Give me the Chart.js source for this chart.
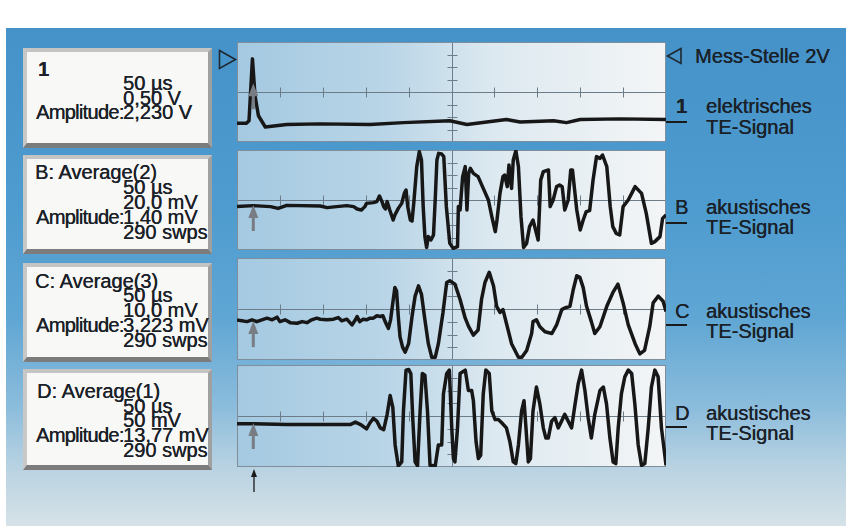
<!DOCTYPE html>
<html>
<head>
<meta charset="utf-8">
<script src="https://cdn.jsdelivr.net/npm/chart.js@4.4.1/dist/chart.umd.min.js"></script>
<style>
body { margin: 0; width: 846px; height: 526px; background: #fff; overflow: hidden; position: relative;
  font-family: "Liberation Sans", Arial, sans-serif; color: #1a2128; }
#bg { position: absolute; left: 6px; top: 28px; width: 840px; height: 498px;
  background: linear-gradient(180deg, #4592c8 0%, #4d9bcf 35%, #5fa6d4 58%, #8bbcdc 76%, #b8d2e2 88%, #d6e2e8 100%); }
.box { position: absolute; left: 23px; width: 189px; box-sizing: border-box; background: #f8f8f7;
  border-top: 4px solid #c4c4c4; border-left: 4px solid #c8c8c8; border-right: 4px solid #a0a0a0; border-bottom: 5px solid #7c7c7c; }
.t { position: absolute; font-size: 20px; line-height: 20px; white-space: nowrap; text-shadow: 0.35px 0 0 #1a2128; }
.b { font-weight: bold; }
.amp { letter-spacing: -0.7px; }
canvas { position: absolute; left: 237px; }
svg { position: absolute; left: 0; top: 0; }
</style>
</head>
<body>
<div id="bg"></div>

<div class="box" style="top:48px;height:100px"></div>
<div class="box" style="top:155px;height:99px"></div>
<div class="box" style="top:263px;height:99px"></div>
<div class="box" style="top:369px;height:101px"></div>

<div class="t b" style="left:38px;top:59px">1</div>
<div class="t" style="left:123px;top:73px">50 µs</div>
<div class="t" style="left:123px;top:88px">0,50 V</div>
<div class="t amp" style="left:36px;top:102px">Amplitude:</div>
<div class="t" style="left:123px;top:102px">2,230 V</div>

<div class="t" style="left:35px;top:162px">B: Average(2)</div>
<div class="t" style="left:123px;top:177px">50 µs</div>
<div class="t" style="left:123px;top:192px">20,0 mV</div>
<div class="t amp" style="left:36px;top:207px">Amplitude:</div>
<div class="t" style="left:123px;top:207px">1,40 mV</div>
<div class="t" style="left:123px;top:222px">290 swps</div>

<div class="t" style="left:35px;top:271px">C: Average(3)</div>
<div class="t" style="left:123px;top:285px">50 µs</div>
<div class="t" style="left:123px;top:300px">10,0 mV</div>
<div class="t amp" style="left:36px;top:315px">Amplitude:</div>
<div class="t" style="left:123px;top:315px">3,223 mV</div>
<div class="t" style="left:123px;top:330px">290 swps</div>

<div class="t" style="left:37px;top:381px">D: Average(1)</div>
<div class="t" style="left:123px;top:396px">50 µs</div>
<div class="t" style="left:123px;top:410px">50 mV</div>
<div class="t amp" style="left:36px;top:425px">Amplitude:</div>
<div class="t" style="left:123px;top:425px">13,77 mV</div>
<div class="t" style="left:123px;top:440px">290 swps</div>

<canvas id="scope1" width="429" height="100" style="top:42px"></canvas>
<canvas id="scopeB" width="429" height="100" style="top:150px"></canvas>
<canvas id="scopeC" width="429" height="102" style="top:258px"></canvas>
<canvas id="scopeD" width="429" height="102" style="top:365px"></canvas>

<div class="t" style="left:695px;top:46px">Mess-Stelle 2V</div>
<div class="t b" style="left:676px;top:96px">1</div>
<div class="t" style="left:706px;top:96px">elektrisches</div>
<div class="t" style="left:706px;top:117px">TE-Signal</div>
<div class="t" style="left:675px;top:197px">B</div>
<div class="t" style="left:706px;top:197px">akustisches</div>
<div class="t" style="left:706px;top:217px">TE-Signal</div>
<div class="t" style="left:675px;top:301px">C</div>
<div class="t" style="left:706px;top:301px">akustisches</div>
<div class="t" style="left:706px;top:321px">TE-Signal</div>
<div class="t" style="left:675px;top:403px">D</div>
<div class="t" style="left:706px;top:403px">akustisches</div>
<div class="t" style="left:706px;top:423px">TE-Signal</div>

<svg width="846" height="526">
  <g fill="none" stroke="#1f2830" stroke-width="1.6">
    <path d="M219.5 50.5 L235.5 59.5 L219.5 68.5 Z"/>
    <path d="M681 48.5 L667.5 56 L681 63.5 Z"/>
  </g>
  <g stroke="#1a1a1a" stroke-width="2">
    <line x1="666" y1="122" x2="687" y2="122"/>
    <line x1="666" y1="223" x2="687" y2="223"/>
    <line x1="666" y1="325" x2="687" y2="325"/>
    <line x1="666" y1="427" x2="687" y2="427"/>
  </g>
  <line x1="254" y1="474" x2="254" y2="492" stroke="#1a1a1a" stroke-width="1.3"/>
  <path d="M254 469 L251 477 L257 477 Z" fill="#1a1a1a"/>
</svg>

<script>
// time axis: 50 µs/div, 10 div; amplitude in divisions (8 div)
const xTicks = [50, 100, 150, 200, 300, 350, 400, 450]
const yTicks = [-3, -2, -1, 1, 2, 3]
const triggerUs = 19

// 1: elektrisches TE-Signal
const time1 = [0, 11, 14, 18, 21, 25, 33, 58, 97, 155,
  194, 248, 268, 291, 314, 330, 369, 384, 400, 446,
  500]
const volt1 = [-2.5, -2.5, -2.3, 2.65, -0.3, -1.9, -2.8, -2.6, -2.55, -2.6,
  -2.45, -2.3, -2.6, -2.4, -2.2, -2.4, -2.3, -2.45, -2.2, -2.15,
  -2.2]

// B: akustisches TE-Signal
const timeB = [0, 19, 39, 48, 58, 97, 105, 116, 128, 136,
  140, 145, 149, 151, 159, 163, 166, 169, 171, 173,
  175, 178, 182, 184, 188, 192, 195, 197, 199, 202,
  204, 206, 209.5, 212.5, 215, 217, 219, 221, 223, 226,
  229, 231, 233, 235, 238.5, 241, 244, 248, 252, 257,
  258, 260, 263, 266, 268, 270, 272, 275.5, 281, 287,
  293, 297, 301, 303, 306.5, 310, 312, 315, 317, 320,
  322, 325, 328, 331, 334, 337.5, 341, 345, 348, 351,
  354, 357, 363, 365, 368.5, 372.5, 376, 379, 382, 386,
  389, 391, 396, 400, 403.5, 407, 411, 415, 419, 423,
  426, 431, 435, 438, 442, 446, 450, 456, 460, 464,
  471.5, 477, 483, 487, 493, 496, 500]
const voltB = [-0.53, -0.45, -0.53, -0.67, -0.43, -0.48, -0.61, -0.53, -0.45, -0.53,
  -0.72, -0.8, -0.53, -0.27, -0.21, -0.13, 0.32, -0.13, -0.53, -0.72,
  -0.13, -0.8, -1.6, -1.2, -0.67, -0.27, 0.53, 0.8, -0.53, -1.6,
  -1.68, -0.27, 2.67, 3.87, 3.2, -0.53, -2.93, -3.79, -2.93, -3.2,
  -2.8, 0, 3.2, 3.73, 3.68, 3.47, -0.53, -3.47, -3.87, -3.73,
  -0.53, -0.8, 1.87, 2.67, -0.8, 2.13, 2.53, 2.13, 1.87, 0.93,
  0, -1.33, -2.53, -1.6, 0.53, 1.87, 2, 1.07, 2.8, 0.93,
  3.2, 3.95, 2.67, -1.33, -3.79, -3.47, -2.13, -1.6, -2.4, -3.2,
  1.6, 2.27, 2.4, -0.53, 0, 1.07, 1.2, 1.07, -0.8, 0,
  2.4, 2.4, -0.8, -2.4, -1.6, -0.93, -0.85, 1.6, 3.47, 3.33,
  3.6, 2.67, -0.53, -2.13, -2.67, -2.8, -0.53, 0, 0.53, 1.07,
  0.53, -1.07, -3.47, -3.33, -2.93, -1.47, -1.2]

// C: akustisches TE-Signal
const timeC = [0, 4, 11.6, 17.5, 23, 29, 35, 41, 46.6, 50,
  56, 62, 70, 76, 81.5, 87, 93, 97, 105, 112.5,
  118, 122, 128, 134, 138, 140, 143, 147, 151, 155,
  159, 163, 167, 170, 172.7, 176.5, 179, 181.6, 184, 186,
  188, 190, 193, 196, 200, 204, 207.6, 211.5, 215, 219,
  223, 227, 231, 234.7, 240, 244.4, 248, 254, 260, 266,
  270, 275.5, 281, 285, 289, 294, 299, 302.6, 306.5, 310,
  314, 320, 328, 332, 337.6, 343.4, 345, 349, 353, 359,
  367, 372.5, 378.5, 382, 388, 392, 396, 399.6, 403.5, 407.4,
  413, 417, 423, 431, 438, 444, 450, 456, 464, 469.5,
  475, 481, 485, 491, 496.6, 500]
const voltC = [-0.85, -0.91, -0.99, -0.85, -0.99, -0.85, -0.72, -0.85, -0.64, -0.99,
  -0.85, -1.07, -1.12, -0.99, -1.07, -0.85, -0.72, -0.8, -0.85, -0.8,
  -0.67, -0.93, -0.8, -1.25, -0.85, -0.59, -0.99, -0.8, -0.85, -0.72,
  -0.72, -0.53, -0.59, -0.53, -0.99, -1.52, -0.85, 0.48, 1.68, 1.41,
  -0.59, -2.19, -2.99, -3.39, -2.72, -0.59, 1.01, 1.81, 1.15, -0.85,
  -2.72, -3.79, -3.79, -2.72, -0.32, 2.08, 2.21, 1.95, 0.75, -0.72,
  -1.39, -2.05, -1.65, 0.75, 2.08, 2.88, 1.81, 0.21, -0.27, -0.05,
  -1.12, -2.72, -3.79, -3.79, -3.25, -1.92, -0.99, -0.85, -1.39, -1.79,
  -1.92, -1.25, -0.05, 0.08, 0.21, 1.55, 2.61, 2.48, 1.68, 0.21,
  -0.99, -1.92, -1.39, 0.21, 1.28, 1.95, 0.48, -1.25, -2.72, -3.52,
  -3.25, -1.39, 0.48, 1.01, 0.61, -0.19]

// D: akustisches TE-Signal
const timeD = [0, 19, 58, 97, 132, 138, 144, 151, 155, 159,
  163, 167, 171, 175, 178.5, 181.6, 184.3, 188, 192, 194,
  197, 200, 202.6, 205, 207.6, 210.4, 213.4, 216, 219, 222,
  225, 231, 234.7, 238.6, 240.6, 244.4, 247.5, 250.3, 252.2, 254,
  257, 260, 266, 269.7, 273.5, 275.5, 278.6, 281.3, 284, 287,
  290, 294, 297, 300.7, 304.6, 308.5, 314, 318, 322, 325,
  328, 331.7, 334.5, 336.8, 339.5, 342, 345, 349, 353, 357,
  360, 362.8, 366.7, 370.5, 374.4, 378.3, 382, 386, 390, 394,
  397.7, 401.6, 405.5, 409.3, 413, 417, 423, 427, 430.7, 434.6,
  438.4, 441.5, 444.3, 448, 452, 456, 460, 463.7, 467.6, 471.5,
  475.3, 479.3, 483, 487, 490.8, 494.7, 498.6, 500]
const voltD = [-0.61, -0.61, -0.67, -0.67, -0.67, -0.48, -0.67, -1.01, -0.53, -0.19,
  -0.4, -0.93, -1.07, 0.13, 1.6, 0.67, -2.27, -3.92, -3.6, 0.4,
  3.6, 3.65, 3.33, -0.4, -3.6, -3.92, 0.4, 3.33, 3.2, 0.4,
  -3.87, -3.92, -2.27, -2.27, 1.73, 3.33, 3.6, -0.93, -3.33, -3.6,
  -0.93, 3.33, 3.6, 2, 2, 1.2, -2, -3.33, -3.07, 1.73,
  3.6, 3.33, 0.4, -0.27, -0.27, -0.53, -0.93, -2, -3.6, -3.73,
  -2.27, 0.4, 1.2, -0.93, -3.6, -3.33, 0.4, 2.27, 0.93, -0.93,
  -1.73, -1.73, -0.4, -0.13, -0.93, -0.4, 0.13, -0.4, -0.93, 0.93,
  2.53, 3.6, 2, -0.13, -1.73, 0.13, 2, 2.27, 0.93, -1.73,
  -3.6, -3.73, -0.93, 1.73, 3.07, 3.6, 3.33, 0.93, -2.27, -3.87,
  -3.73, -0.93, 2.27, 3.6, 3.07, -0.93, -3.07, -3.87]

const scopeGrid = {
    id: 'scopeGrid',
    beforeDatasetsDraw(chart) {
        const { ctx, chartArea: a, scales: { x, y } } = chart
        ctx.save()
        const g = ctx.createLinearGradient(a.left, 0, a.right, 0)
        g.addColorStop(0, '#a4c9e1')
        g.addColorStop(0.35, '#b9d5e7')
        g.addColorStop(0.6, '#dde9f0')
        g.addColorStop(1, '#f3f5f6')
        ctx.fillStyle = g
        ctx.fillRect(a.left, a.top, a.right - a.left, a.bottom - a.top)
        const cx = Math.round(x.getPixelForValue(250)) + 0.5
        const cy = Math.round(y.getPixelForValue(0)) + 0.5
        ctx.strokeStyle = '#6c7c89'
        ctx.lineWidth = 1
        ctx.beginPath()
        ctx.moveTo(a.left, cy); ctx.lineTo(a.right, cy)
        ctx.moveTo(cx, a.top); ctx.lineTo(cx, a.bottom)
        for (const t of xTicks) {
            const px = Math.round(x.getPixelForValue(t)) + 0.5
            ctx.moveTo(px, cy - 5); ctx.lineTo(px, cy + 5)
        }
        for (const v of yTicks) {
            const py = Math.round(y.getPixelForValue(v)) + 0.5
            ctx.moveTo(cx - 5, py); ctx.lineTo(cx + 5, py)
        }
        ctx.stroke()
        ctx.strokeStyle = '#7e8e9a'
        ctx.strokeRect(a.left + 0.5, a.top + 0.5, a.right - a.left - 1, a.bottom - a.top - 1)
        ctx.restore()
    },
    afterDatasetsDraw(chart, args, opts) {
        const { ctx, scales: { x, y } } = chart
        const px = x.getPixelForValue(triggerUs)
        const tip = y.getPixelForValue(opts.tip)
        ctx.save()
        ctx.fillStyle = '#787d83'
        ctx.beginPath()
        ctx.moveTo(px, tip); ctx.lineTo(px - 5, tip + 13); ctx.lineTo(px + 5, tip + 13)
        ctx.closePath()
        ctx.fill()
        ctx.fillRect(px - 1.5, tip + 12, 3, 14)
        ctx.restore()
    }
}

function scope(id, times, volts, tip) {
    new Chart(document.getElementById(id), {
        type: 'line',
        data: {
            datasets: [{
                data: times.map((t, i) => ({ x: t, y: volts[i] })),
                borderColor: '#171717',
                borderWidth: 3.5,
                pointRadius: 0,
                tension: 0,
                clip: false,
                borderJoinStyle: 'round'
            }]
        },
        options: {
            responsive: false,
            animation: false,
            layout: { padding: 0 },
            plugins: { legend: { display: false }, tooltip: { enabled: false }, scopeGrid: { tip: tip } },
            scales: {
                x: { type: 'linear', min: 0, max: 500, display: false },
                y: { min: -4, max: 4, display: false }
            }
        },
        plugins: [scopeGrid]
    })
}

scope('scope1', time1, volt1, 0.7)
scope('scopeB', timeB, voltB, -0.4)
scope('scopeC', timeC, voltC, -0.95)
scope('scopeD', timeD, voltD, -0.55)
</script>
</body>
</html>
